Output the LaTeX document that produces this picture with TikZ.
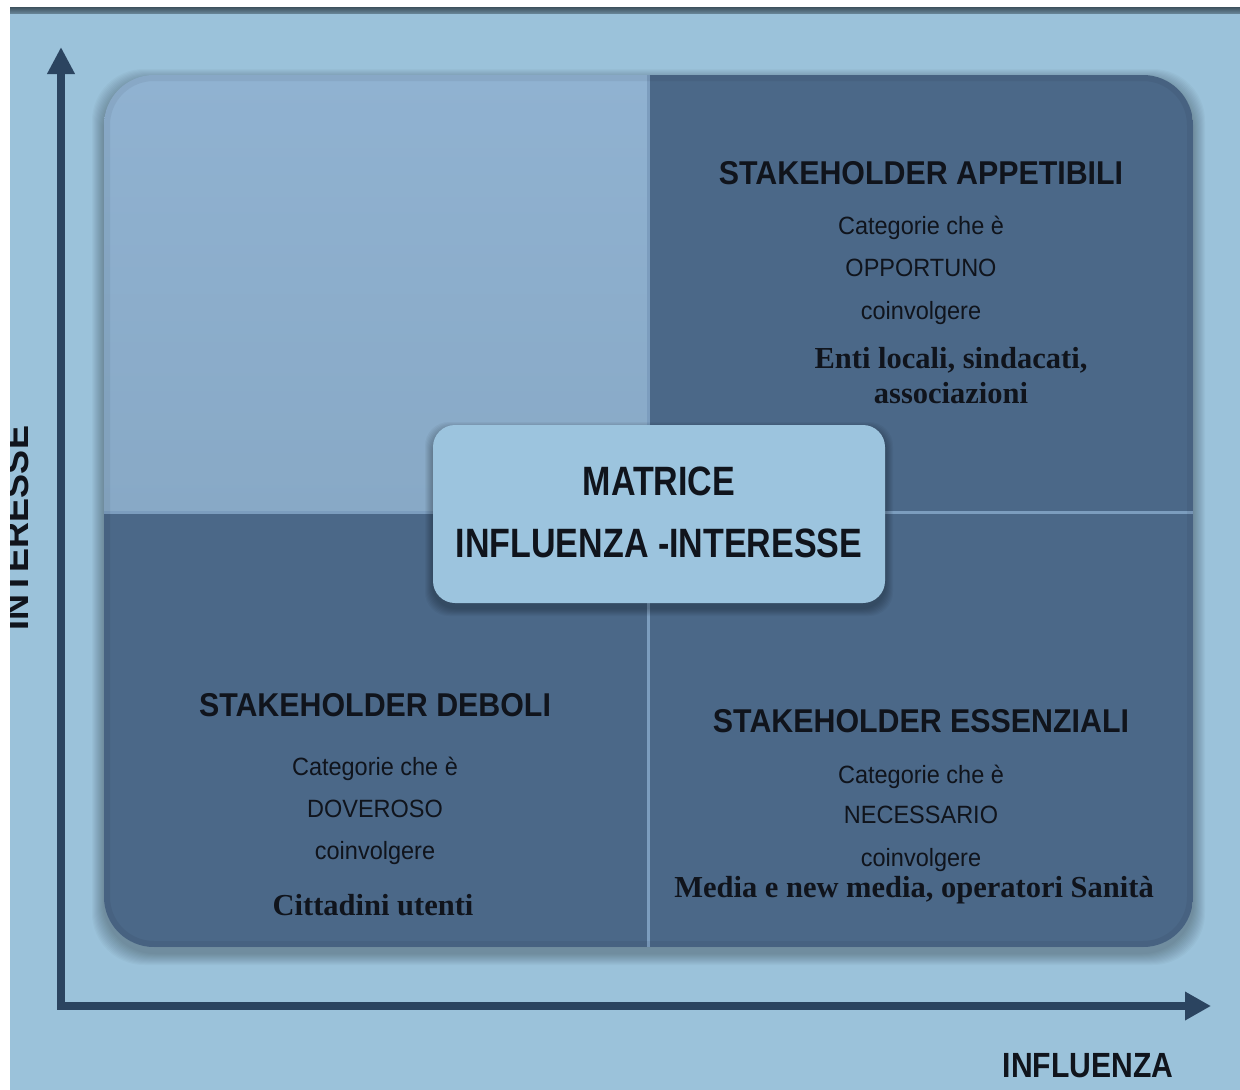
\documentclass[tikz,border=0pt]{standalone}
\usepackage{fontspec}
\setmainfont{Liberation Sans}
% condensed faces for the different text roles
\newfontfamily\headfont[FakeStretch=0.92]{Liberation Sans}
\newfontfamily\subfont[FakeStretch=0.94]{Liberation Sans}
\newfontfamily\titlefont[FakeStretch=0.83]{Liberation Sans}
\newfontfamily\axisfont[FakeStretch=0.86]{Liberation Sans}
\newfontfamily\vaxisfont{Liberation Sans}
\newfontfamily\namefont{Liberation Serif}
\usetikzlibrary{arrows.meta}

\definecolor{bgblue}{HTML}{9BC2DA}
\definecolor{topstrip}{HTML}{4E6676}
\definecolor{qlight}{HTML}{88A9C6}
\definecolor{qlighttop}{HTML}{90B2D1}
\definecolor{qdark}{HTML}{4B6888}
\definecolor{divline}{HTML}{7C9DBE}
\definecolor{axiscol}{HTML}{2B4460}
\definecolor{centrefill}{HTML}{9CC4DE}
\definecolor{inkcol}{HTML}{10141C}

\begin{document}
\begin{tikzpicture}[x=1pt,y=-1pt,
  head/.style={font=\headfont\bfseries\fontsize{33}{38}\selectfont, text=inkcol, anchor=base},
  sub/.style={font=\subfont\fontsize{25}{30}\selectfont, text=inkcol, anchor=base},
  who/.style={font=\namefont\bfseries\fontsize{30.5}{35}\selectfont, text=inkcol, anchor=base},
  titletext/.style={font=\titlefont\bfseries\fontsize{41}{46}\selectfont, text=inkcol, anchor=base},
  axislab/.style={font=\axisfont\bfseries\fontsize{35}{40}\selectfont, text=inkcol, anchor=base},
  vaxislab/.style={font=\vaxisfont\bfseries\fontsize{36}{40}\selectfont, text=inkcol, anchor=base},
  axisline/.style={draw=axiscol, line width=8pt, line join=miter,
    {Triangle[length=27pt,width=26pt]}-{Triangle[length=26pt,width=27pt]}},
  centrebox/.style={fill=centrefill, rounded corners=22pt, minimum width=452pt,
    minimum height=178pt, inner sep=0pt}
]
\useasboundingbox (0,0) rectangle (1240,1090);

% page background and top band
\fill[bgblue] (0,0) rectangle (1240,1090);
\shade[top color=topstrip!80!black, bottom color=topstrip!70!bgblue] (0,7) rectangle (1240,13);
\fill[white] (0,0) rectangle (1240,7);

% soft shadow under the matrix
\foreach \i in {1,...,12}
  \fill[black, opacity=0.025, rounded corners=52pt]
    (104-\i, 75-\i+6) rectangle (1193+\i, 947+\i+6);

% the four quadrants
\begin{scope}
  \clip[rounded corners=50pt] (104,75) rectangle (1193,947);
  \shade[top color=qlighttop, bottom color=qlight] (104,75) rectangle (648,512);
  \fill[qdark] (648,75) rectangle (1193,512);
  \fill[qdark] (104,512) rectangle (648,947);
  \fill[qdark] (648,512) rectangle (1193,947);
  \draw[divline, line width=3pt] (648,75) -- (648,947);
  \draw[divline, line width=3pt] (104,512) -- (1193,512);
  \draw[black, opacity=0.05, line width=12pt, rounded corners=50pt]
    (104,75) rectangle (1193,947);
\end{scope}

% axes
\coordinate (origin) at (61,1006);
\coordinate (ytip) at (61,47);
\coordinate (xtip) at (1211,1006);
\draw[axisline] (ytip) -- (origin) -- (xtip);

% upper right quadrant
\node[head] (hApp) at (921,184) {STAKEHOLDER APPETIBILI};
\node[sub] (cApp) at (921,234) {Categorie che è};
\node[sub] (oApp) at (921,276) {OPPORTUNO};
\node[sub] (vApp) at (921,319) {coinvolgere};
\node[who] (eApp) at (951,368) {Enti locali, sindacati,};
\node[who] (aApp) at (951,403) {associazioni};

% lower left quadrant
\node[head] (hDeb) at (375,716) {STAKEHOLDER DEBOLI};
\node[sub] (cDeb) at (375,775) {Categorie che è};
\node[sub] (oDeb) at (375,817) {DOVEROSO};
\node[sub] (vDeb) at (375,859) {coinvolgere};
\node[who] (eDeb) at (373,915) {Cittadini utenti};

% lower right quadrant
\node[head] (hEss) at (921,732) {STAKEHOLDER ESSENZIALI};
\node[sub] (cEss) at (921,783) {Categorie che è};
\node[sub] (oEss) at (921,823) {NECESSARIO};
\node[sub] (vEss) at (921,866) {coinvolgere};
\node[who] (eEss) at (914,897) {Media e new media, operatori Sanità};

% central title box with its shadow
\foreach \i in {1,...,8}
  \fill[black, opacity=0.035, rounded corners=24pt]
    (433-\i, 425-\i+5) rectangle (885+\i, 603+\i+5);
\node[centrebox] (centre) at (659,514) {};
\node[titletext] (tMat) at (659,495) {MATRICE};
\node[titletext] (tInf) at (659,557) {INFLUENZA -INTERESSE};

% axis labels
\node[axislab] (xlab) at (1088,1077) {INFLUENZA};
\node[vaxislab, rotate=90] (ylab) at (28,528) {INTERESSE};

% white margin on the left
\fill[white] (0,0) rectangle (10,1090);
\end{tikzpicture}
\end{document}
